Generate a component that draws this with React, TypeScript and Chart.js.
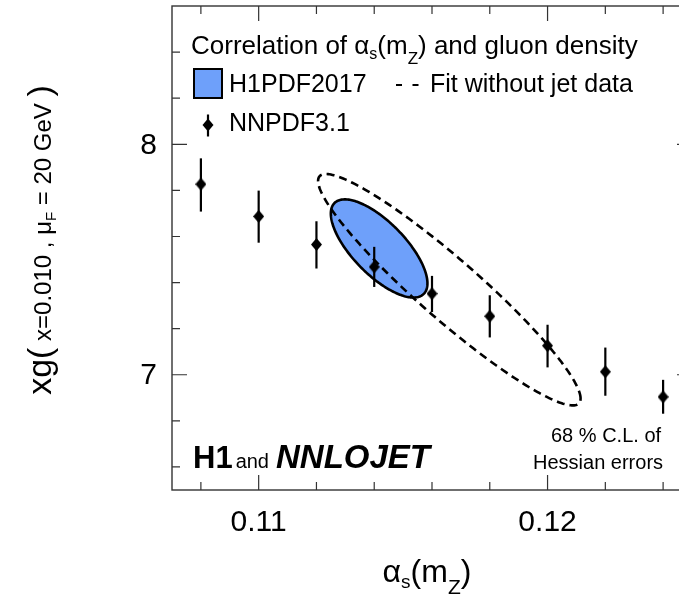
import React, { useEffect, useRef } from 'react';
import { Chart, registerables } from 'chart.js';

Chart.register(...registerables);

// NNPDF3.1 points: alpha_s(mZ) vs xg(x=0.010, muF=20 GeV)
const ALPHA_S = [0.108, 0.110, 0.112, 0.114, 0.116, 0.118, 0.120, 0.122, 0.124];
const XG = [7.827, 7.687, 7.565, 7.468, 7.352, 7.254, 7.126, 7.013, 6.904];
const XG_ERR_UP = [0.112, 0.112, 0.101, 0.087, 0.077, 0.091, 0.091, 0.105, 0.074];
const XG_ERR_DOWN = [0.119, 0.114, 0.104, 0.087, 0.080, 0.092, 0.094, 0.104, 0.073];

// 68% C.L. Hessian error ellipses
const ELLIPSE_LABELS = ['H1PDF2017', 'Fit without jet data'];
const ELLIPSE_ALPHA_S = [0.11417, 0.1166];
const ELLIPSE_XG = [7.548, 7.369];
const ELLIPSE_SIGMA_ALPHA_S = [0.001672, 0.004543];
const ELLIPSE_SIGMA_XG = [0.213, 0.502];
const ELLIPSE_RHO = [-0.71, -0.94];

// axis ticks
const X_MIN = 0.107;
const X_MAX = 0.125;
const Y_MIN = 6.5;
const Y_MAX = 8.6;
const X_TICKS = [0.108, 0.110, 0.112, 0.114, 0.116, 0.118, 0.120, 0.122, 0.124];
const X_MAJOR = [0.110, 0.120];
const X_LABELS = ['0.11', '0.12'];
const Y_TICKS = [6.6, 6.8, 7.0, 7.2, 7.4, 7.6, 7.8, 8.0, 8.2, 8.4];
const Y_MAJOR = [7.0, 8.0];
const Y_LABELS = ['7', '8'];

const FONT = "'Liberation Sans', Arial, Helvetica, sans-serif";
const BLUE = 'rgb(110,160,250)';

type Seg = { t: string; size: number; dy?: number; dx?: number; weight?: string; style?: string };

function setFont(ctx: CanvasRenderingContext2D, s: Seg) {
  ctx.font = `${s.style || 'normal'} ${s.weight || 'normal'} ${s.size}px ${FONT}`;
}
function segsWidth(ctx: CanvasRenderingContext2D, segs: Seg[]) {
  let w = 0;
  for (const s of segs) {
    setFont(ctx, s);
    w += ctx.measureText(s.t).width + (s.dx || 0);
  }
  return w;
}
function drawSegs(ctx: CanvasRenderingContext2D, segs: Seg[], x: number, y: number) {
  let cx = x;
  ctx.textAlign = 'left';
  ctx.textBaseline = 'alphabetic';
  for (const s of segs) {
    setFont(ctx, s);
    cx += s.dx || 0;
    ctx.fillText(s.t, cx, y + (s.dy || 0));
    cx += ctx.measureText(s.t).width;
  }
  return cx;
}

function makeDiamond() {
  const c = document.createElement('canvas');
  c.width = 11;
  c.height = 13;
  const g = c.getContext('2d')!;
  g.fillStyle = '#000';
  g.beginPath();
  g.moveTo(5.5, 0);
  g.lineTo(11, 6.5);
  g.lineTo(5.5, 13);
  g.lineTo(0, 6.5);
  g.closePath();
  g.fill();
  return c;
}

function ellipsePath(ctx: CanvasRenderingContext2D, xs: any, ys: any, i: number) {
  const n = 240;
  const rho = ELLIPSE_RHO[i];
  const r2 = Math.sqrt(1 - rho * rho);
  ctx.beginPath();
  for (let k = 0; k <= n; k++) {
    const t = (2 * Math.PI * k) / n;
    const a = ELLIPSE_ALPHA_S[i] + ELLIPSE_SIGMA_ALPHA_S[i] * Math.cos(t);
    const g = ELLIPSE_XG[i] + ELLIPSE_SIGMA_XG[i] * (rho * Math.cos(t) + r2 * Math.sin(t));
    const px = xs.getPixelForValue(a);
    const py = ys.getPixelForValue(g);
    if (k === 0) ctx.moveTo(px, py);
    else ctx.lineTo(px, py);
  }
  ctx.closePath();
}

const decorPlugin = {
  id: 'decor',
  beforeDatasetsDraw(chart: any) {
    const ctx: CanvasRenderingContext2D = chart.ctx;
    const xs = chart.scales.x;
    const ys = chart.scales.y;
    ctx.save();
    // H1PDF2017 filled ellipse
    ellipsePath(ctx, xs, ys, 0);
    ctx.fillStyle = BLUE;
    ctx.fill();
    ctx.lineWidth = 2.6;
    ctx.strokeStyle = '#000';
    ctx.stroke();
    // fit without jet data: dashed
    ellipsePath(ctx, xs, ys, 1);
    ctx.setLineDash([8, 5]);
    ctx.lineWidth = 2.6;
    ctx.stroke();
    ctx.setLineDash([]);
    // error bars
    ctx.lineWidth = 2.2;
    ctx.strokeStyle = '#000';
    for (let i = 0; i < ALPHA_S.length; i++) {
      const px = xs.getPixelForValue(ALPHA_S[i]);
      ctx.beginPath();
      ctx.moveTo(px, ys.getPixelForValue(XG[i] + XG_ERR_UP[i]));
      ctx.lineTo(px, ys.getPixelForValue(XG[i] - XG_ERR_DOWN[i]));
      ctx.stroke();
    }
    ctx.restore();
  },
  afterDraw(chart: any) {
    const ctx: CanvasRenderingContext2D = chart.ctx;
    const xs = chart.scales.x;
    const ys = chart.scales.y;
    const a = chart.chartArea;
    ctx.save();
    // frame
    ctx.strokeStyle = '#333';
    ctx.lineWidth = 1.4;
    ctx.strokeRect(a.left, a.top, a.right - a.left, a.bottom - a.top);
    // ticks
    ctx.lineWidth = 1.2;
    for (const v of X_TICKS) {
      const px = xs.getPixelForValue(v);
      const len = X_MAJOR.some((m) => Math.abs(m - v) < 1e-9) ? 15 : 8;
      ctx.beginPath();
      ctx.moveTo(px, a.bottom);
      ctx.lineTo(px, a.bottom - len);
      ctx.moveTo(px, a.top);
      ctx.lineTo(px, a.top + len);
      ctx.stroke();
    }
    for (const v of Y_TICKS) {
      const py = ys.getPixelForValue(v);
      const len = Y_MAJOR.some((m) => Math.abs(m - v) < 1e-9) ? 15 : 8;
      ctx.beginPath();
      ctx.moveTo(a.left, py);
      ctx.lineTo(a.left + len, py);
      ctx.moveTo(a.right, py);
      ctx.lineTo(a.right - len, py);
      ctx.stroke();
    }
    // tick labels
    ctx.fillStyle = '#000';
    ctx.font = `30px ${FONT}`;
    ctx.textAlign = 'center';
    ctx.textBaseline = 'alphabetic';
    X_MAJOR.forEach((v, i) => {
      ctx.fillText(X_LABELS[i], xs.getPixelForValue(v), a.bottom + 41);
    });
    ctx.textAlign = 'right';
    ctx.textBaseline = 'middle';
    Y_MAJOR.forEach((v, i) => {
      ctx.fillText(Y_LABELS[i], a.left - 15, ys.getPixelForValue(v) + 1);
    });

    // x axis title
    const xt: Seg[] = [
      { t: 'α', size: 32 },
      { t: 's', size: 19, dy: 6 },
      { t: '(m', size: 32 },
      { t: 'Z', size: 21, dy: 12 },
      { t: ')', size: 32 },
    ];
    const xw = segsWidth(ctx, xt);
    drawSegs(ctx, xt, 427 - xw / 2, 582);

    // y axis title (rotated)
    const yt: Seg[] = [
      { t: 'xg(', size: 34 },
      { t: ' x=0.010 , μ', size: 24 },
      { t: 'F', size: 15, dy: 5 },
      { t: ' = 20 GeV ', size: 24 },
      { t: ')', size: 34 },
    ];
    const yw = segsWidth(ctx, yt);
    ctx.save();
    ctx.translate(51, 240);
    ctx.rotate(-Math.PI / 2);
    drawSegs(ctx, yt, -yw / 2, 0);
    ctx.restore();

    // legend header
    drawSegs(
      ctx,
      [
        { t: 'Correlation of ', size: 26 },
        { t: 'α', size: 26 },
        { t: 's', size: 16, dy: 5 },
        { t: '(m', size: 26 },
        { t: 'Z', size: 17, dy: 10 },
        { t: ') and gluon density', size: 26 },
      ],
      191,
      54
    );
    // H1PDF2017 box
    ctx.fillStyle = BLUE;
    ctx.fillRect(194, 69, 28, 29);
    ctx.strokeStyle = '#000';
    ctx.lineWidth = 2;
    ctx.strokeRect(194, 69, 28, 29);
    ctx.fillStyle = '#000';
    drawSegs(ctx, [{ t: ELLIPSE_LABELS[0], size: 25 }], 229, 92);
    // dashed sample
    ctx.lineWidth = 2.2;
    ctx.beginPath();
    ctx.moveTo(396, 85);
    ctx.lineTo(402, 85);
    ctx.moveTo(412.5, 85);
    ctx.lineTo(418.5, 85);
    ctx.stroke();
    drawSegs(ctx, [{ t: ELLIPSE_LABELS[1], size: 25 }], 430, 92);
    // NNPDF marker
    ctx.lineWidth = 2.2;
    ctx.beginPath();
    ctx.moveTo(208, 114.5);
    ctx.lineTo(208, 136.5);
    ctx.stroke();
    ctx.beginPath();
    ctx.moveTo(208, 118.5);
    ctx.lineTo(213.5, 125);
    ctx.lineTo(208, 131.5);
    ctx.lineTo(202.5, 125);
    ctx.closePath();
    ctx.fill();
    drawSegs(ctx, [{ t: 'NNPDF3.1', size: 25 }], 229, 131);

    // H1 and NNLOJET
    drawSegs(
      ctx,
      [
        { t: 'H1', size: 31, weight: 'bold' },
        { t: 'and', size: 20, dx: 3 },
        { t: 'NNLOJET', size: 33, weight: 'bold', style: 'italic', dx: 7 },
      ],
      193,
      468
    );
    // CL annotation
    drawSegs(ctx, [{ t: '68 % C.L. of', size: 20 }], 551, 442);
    drawSegs(ctx, [{ t: 'Hessian errors', size: 20 }], 533, 469);

    ctx.restore();
  },
};

export default function App() {
  const ref = useRef<HTMLCanvasElement | null>(null);
  useEffect(() => {
    const canvas = ref.current;
    if (!canvas) return;
    const diamond = makeDiamond();
    const chart = new Chart(canvas, {
      type: 'scatter',
      data: {
        datasets: [
          {
            label: 'NNPDF3.1',
            data: ALPHA_S.map((x, i) => ({ x, y: XG[i] })),
            pointStyle: diamond as any,
            pointRadius: 6,
            backgroundColor: '#000',
            borderColor: '#000',
            borderWidth: 0,
          },
        ],
      },
      options: {
        animation: false,
        responsive: false,
        events: [],
        devicePixelRatio: 1,
        layout: { padding: { left: 172, top: 5, right: 28, bottom: 105 } },
        plugins: { legend: { display: false }, tooltip: { enabled: false } },
        scales: {
          x: { type: 'linear', min: X_MIN, max: X_MAX, display: false },
          y: { type: 'linear', min: Y_MIN, max: Y_MAX, display: false },
        },
      },
      plugins: [decorPlugin],
    });
    return () => chart.destroy();
  }, []);
  return (
    <div
      style={{
        position: 'fixed',
        left: 0,
        top: 0,
        width: 679,
        height: 595,
        overflow: 'hidden',
        background: '#fff',
      }}
    >
      <canvas ref={ref} width={720} height={595} style={{ display: 'block' }} />
    </div>
  );
}
